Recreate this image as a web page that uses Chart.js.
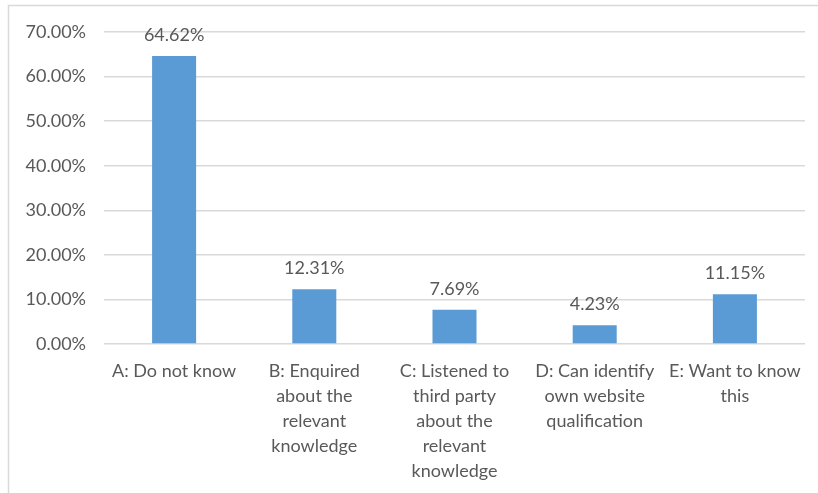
<!DOCTYPE html>
<html lang="en">
<head>
<meta charset="UTF-8" />
<title>Survey answers</title>
<script src="https://cdn.jsdelivr.net/npm/chart.js@4.4.0/dist/chart.umd.min.js"></script>
<style>
  html, body { margin: 0; padding: 0; background: #fff; }
</style>
</head>
<body>
<canvas id="chart" width="818" height="493"></canvas>
<script>
// answers and their share (percent)
const categories = [
  ['A: Do not know'],
  ['B: Enquired', 'about the', 'relevant', 'knowledge'],
  ['C: Listened to', 'third party', 'about the', 'relevant', 'knowledge'],
  ['D: Can identify', 'own website', 'qualification'],
  ['E: Want to know', 'this']
];
const shares = [64.62, 12.31, 7.69, 4.23, 11.15];
const yMax = 70;
const yStep = 10;

const textColor = '#595959';
const fontFamily = 'Lato, "Liberation Sans", sans-serif';

// grey frame round the chart like the office export
const framePlugin = {
  id: 'frame',
  beforeDraw(chart) {
    const ctx = chart.ctx;
    ctx.save();
    ctx.strokeStyle = '#d9d9d9';
    ctx.lineWidth = 1.5;
    ctx.beginPath();
    ctx.moveTo(8.5, chart.height + 2);
    ctx.lineTo(8.5, 5.5);
    ctx.lineTo(chart.width + 2, 5.5);
    ctx.stroke();
    ctx.restore();
  }
};

// value labels above each bar
const valueLabels = {
  id: 'valueLabels',
  afterDatasetsDraw(chart) {
    const ctx = chart.ctx;
    const meta = chart.getDatasetMeta(0);
    ctx.save();
    ctx.fillStyle = textColor;
    ctx.font = '18px ' + fontFamily;
    ctx.textAlign = 'center';
    ctx.textBaseline = 'middle';
    meta.data.forEach((bar, i) => {
      ctx.fillText(shares[i].toFixed(2) + '%', bar.x, bar.y - 21);
    });
    ctx.restore();
  }
};

const ctx = document.getElementById('chart').getContext('2d');
new Chart(ctx, {
  type: 'bar',
  data: {
    labels: categories,
    datasets: [{
      data: shares,
      backgroundColor: '#5b9bd5',
      categoryPercentage: 1,
      barPercentage: 0.314
    }]
  },
  options: {
    responsive: false,
    animation: false,
    layout: { padding: { top: 32, right: 13, left: 0, bottom: 0 } },
    plugins: {
      legend: { display: false },
      tooltip: { enabled: false }
    },
    scales: {
      x: {
        grid: { display: false, drawTicks: false },
        border: { display: false },
        ticks: {
          color: textColor,
          font: { family: fontFamily, size: 18, lineHeight: 1.39 },
          padding: 15,
          maxRotation: 0,
          autoSkip: false
        },
        afterFit(scale) { scale.height = 149; }
      },
      y: {
        min: 0,
        max: yMax,
        grid: { color: '#d9d9d9', lineWidth: 1.5, drawTicks: false },
        border: { display: false },
        ticks: {
          stepSize: yStep,
          color: textColor,
          font: { family: fontFamily, size: 18 },
          padding: 18,
          callback: (v) => v.toFixed(2) + '%'
        },
        afterFit(scale) { scale.width = 104; }
      }
    }
  },
  plugins: [framePlugin, valueLabels]
});
</script>
</body>
</html>
